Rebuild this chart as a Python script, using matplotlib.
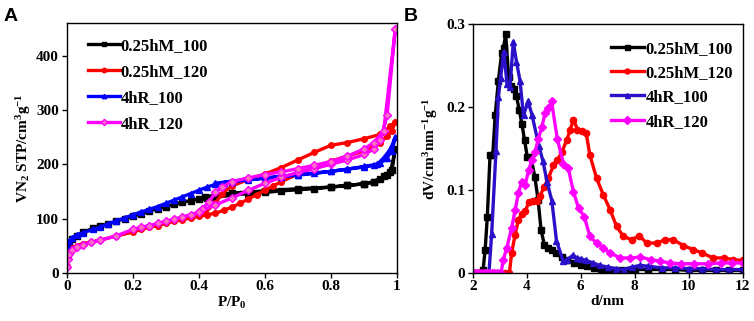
import numpy as np
import matplotlib
matplotlib.use("Agg")
import matplotlib.pyplot as plt

plt.rcParams['font.family'] = ['Liberation Serif', 'DejaVu Serif']
plt.rcParams['font.weight'] = 'bold'
plt.rcParams['mathtext.fontset'] = 'custom'
plt.rcParams['mathtext.rm'] = 'Liberation Serif:bold'
plt.rcParams['mathtext.it'] = 'Liberation Serif:bold'
plt.rcParams['mathtext.bf'] = 'Liberation Serif:bold'

labels = ["0.25hM_100", "0.25hM_120", "4hR_100", "4hR_120"]

# --- panel A: N2 isotherms (adsorption then desorption branch)
p_m100 = [0.0, 0.003, 0.007, 0.015, 0.03, 0.05, 0.08, 0.1, 0.125, 0.15, 0.175, 0.2, 0.225, 0.25,
          0.275, 0.3, 0.325, 0.35, 0.375, 0.4, 0.425, 0.45, 0.5, 0.55, 0.6, 0.65, 0.7, 0.75, 0.8,
          0.85, 0.9, 0.93, 0.95, 0.97, 0.985, 0.995,
          0.98, 0.96, 0.93, 0.9, 0.85, 0.8, 0.7, 0.6, 0.5, 0.45, 0.42]
v_m100 = [35, 48, 55, 62, 68, 75, 82, 86, 90, 95, 100, 104, 109, 114,
          118, 122, 126, 130, 133, 136, 138, 139, 143, 146, 148, 151, 153, 155, 158,
          161, 164, 167, 172, 180, 190, 228,
          185, 178, 168, 164, 161, 158, 155, 151, 147, 143, 140]

p_m120 = [0.0, 0.003, 0.007, 0.015, 0.03, 0.05, 0.075, 0.1, 0.15, 0.2, 0.225, 0.25, 0.275, 0.3,
          0.325, 0.35, 0.375, 0.4, 0.425, 0.45, 0.475, 0.5, 0.525, 0.55, 0.575, 0.6, 0.625, 0.65,
          0.7, 0.75, 0.8, 0.85, 0.9, 0.93, 0.95, 0.97, 0.985, 0.995,
          0.98, 0.95, 0.9, 0.85, 0.8, 0.75, 0.7, 0.65, 0.6, 0.55, 0.5, 0.47, 0.45, 0.42]
v_m120 = [12, 28, 38, 45, 50, 54, 57, 60, 68, 75, 80, 84, 87, 91,
          95, 98, 101, 104, 107, 110, 115, 121, 128, 136, 144, 152, 160, 168,
          182, 194, 206, 215, 225, 233, 240, 252, 262, 278,
          270, 255, 247, 240, 235, 222, 208, 194, 182, 172, 160, 146, 128, 112]

p_r100 = [0.0, 0.003, 0.007, 0.015, 0.03, 0.05, 0.08, 0.1, 0.125, 0.15, 0.175, 0.2, 0.225, 0.25,
          0.275, 0.3, 0.325, 0.35, 0.375, 0.4, 0.425, 0.45, 0.475, 0.5, 0.55, 0.6, 0.65, 0.7,
          0.75, 0.8, 0.85, 0.9, 0.93, 0.95, 0.97, 0.985, 0.995,
          0.98, 0.96, 0.94, 0.9, 0.85, 0.8, 0.7, 0.6, 0.5, 0.45]
v_r100 = [30, 50, 58, 64, 70, 74, 80, 84, 90, 96, 101, 107, 112, 117,
          122, 128, 134, 140, 146, 152, 158, 163, 166, 168, 171, 174, 177, 180,
          183, 187, 191, 195, 198, 202, 212, 225, 250,
          228, 212, 200, 196, 191, 187, 181, 175, 169, 165]

p_r120 = [0.0, 0.003, 0.007, 0.015, 0.03, 0.05, 0.075, 0.1, 0.15, 0.2, 0.225, 0.25, 0.275, 0.3,
          0.325, 0.35, 0.375, 0.4, 0.45, 0.5, 0.55, 0.6, 0.65, 0.7, 0.75, 0.8, 0.85, 0.9,
          0.93, 0.95, 0.97, 0.995,
          0.96, 0.93, 0.9, 0.85, 0.8, 0.75, 0.7, 0.65, 0.6, 0.55, 0.5, 0.47, 0.45, 0.43, 0.41, 0.4]
v_r120 = [10, 25, 35, 42, 48, 52, 56, 60, 68, 80, 84, 87, 91, 95,
          99, 103, 107, 112, 125, 138, 152, 165, 176, 185, 192, 200, 208, 218,
          228, 245, 290, 450,
          262, 240, 228, 215, 205, 198, 192, 186, 181, 175, 168, 158, 148, 130, 118, 113]

# --- panel B: pore size distributions
d_m100 = [2.0, 2.1, 2.2, 2.3, 2.38, 2.46, 2.54, 2.64, 2.74, 2.83, 2.95, 3.07, 3.14, 3.22, 3.33,
          3.42, 3.52, 3.62, 3.72, 3.82, 3.92, 4.02, 4.15, 4.3, 4.42, 4.53, 4.65, 4.8, 4.95, 5.1,
          5.3, 5.5, 5.75, 6.0, 6.25, 6.5, 6.75, 7.0, 7.25, 7.5, 7.75, 8.0, 8.5, 9.0, 9.5, 10.0,
          10.5, 11.0, 11.5, 12.0]
y_m100 = [0, 0, 0, 0, 0.003, 0.028, 0.068, 0.142, 0.142, 0.19, 0.232, 0.265, 0.272, 0.288, 0.237,
          0.226, 0.222, 0.213, 0.197, 0.18, 0.16, 0.14, 0.14, 0.116, 0.088, 0.052, 0.034, 0.03, 0.027, 0.024,
          0.019, 0.016, 0.012, 0.01, 0.008, 0.006, 0.005, 0.004, 0.003, 0.003, 0.004, 0.004, 0.004, 0.004, 0.004, 0.003,
          0.003, 0.003, 0.003, 0.003]

d_m120 = [2.0, 2.2, 2.4, 2.6, 2.8, 3.0, 3.2, 3.36, 3.44, 3.57, 3.69, 3.81, 3.94, 4.1, 4.25, 4.37,
          4.5, 4.64, 4.8, 4.99, 5.13, 5.3, 5.48, 5.6, 5.73, 5.88, 6.04, 6.2, 6.34, 6.59, 6.84, 7.09,
          7.33, 7.58, 7.89, 8.17, 8.44, 8.81, 9.12, 9.43, 9.8, 10.17, 10.5, 10.9, 11.3, 11.65, 12.0]
y_m120 = [0, 0, 0, 0, 0, 0, 0, 0.0, 0.024, 0.046, 0.064, 0.071, 0.075, 0.086, 0.087, 0.087,
          0.093, 0.104, 0.114, 0.13, 0.136, 0.146, 0.16, 0.172, 0.185, 0.173, 0.171, 0.169, 0.142, 0.114, 0.094, 0.076,
          0.056, 0.044, 0.04, 0.045, 0.036, 0.036, 0.04, 0.04, 0.033, 0.028, 0.024, 0.018, 0.018, 0.016, 0.015]

d_r100 = [2.0, 2.1, 2.2, 2.3, 2.4, 2.5, 2.6, 2.7, 2.86, 2.95, 3.03, 3.15, 3.27, 3.38, 3.5, 3.62,
          3.75, 3.88, 4.05, 4.2, 4.45, 4.6, 4.75, 4.93, 5.1, 5.35, 5.5, 5.7, 5.85, 6.0, 6.2, 6.45,
          6.7, 7.0, 7.3, 7.6, 7.9, 8.2, 8.5, 9.0, 9.5, 10.0, 10.5, 11.0, 11.5, 12.0]
y_r100 = [0, 0, 0, 0, 0, 0, 0, 0.047, 0.147, 0.212, 0.235, 0.267, 0.228, 0.224, 0.279, 0.255,
          0.232, 0.19, 0.207, 0.19, 0.153, 0.135, 0.11, 0.087, 0.039, 0.014, 0.016, 0.021, 0.018, 0.017, 0.015, 0.012,
          0.009, 0.007, 0.005, 0.004, 0.007, 0.009, 0.008, 0.006, 0.006, 0.005, 0.005, 0.004, 0.004, 0.004]

d_r120 = [2.0, 2.1, 2.2, 2.3, 2.4, 2.5, 2.6, 2.7, 2.8, 2.9, 3.0, 3.05, 3.13, 3.26, 3.44, 3.57,
          3.69, 3.81, 3.94, 4.07, 4.19, 4.31, 4.43, 4.56, 4.68, 4.8, 4.92, 5.13, 5.36, 5.54, 5.73,
          5.92, 6.13, 6.34, 6.59, 6.84, 7.09, 7.46, 7.83, 8.2, 8.6, 8.95, 9.3, 9.7, 10.2, 10.7,
          11.2, 11.6, 12.0]
y_r120 = [0, 0, 0, 0, 0, 0, 0, 0, 0, 0, 0, 0.0, 0.016, 0.03, 0.054, 0.076,
          0.096, 0.11, 0.106, 0.124, 0.136, 0.146, 0.162, 0.176, 0.193, 0.199, 0.207, 0.162, 0.132, 0.126, 0.098,
          0.078, 0.068, 0.044, 0.036, 0.03, 0.024, 0.018, 0.018, 0.019, 0.016, 0.014, 0.012, 0.011, 0.011, 0.011,
          0.012, 0.012, 0.012]

fig = plt.figure(figsize=(7.54, 3.21), dpi=100)
axA = fig.add_axes([0.0885, 0.150, 0.438, 0.778])
axB = fig.add_axes([0.627, 0.150, 0.358, 0.774])

styleA = [
    dict(color="black", marker="s", mfc="black", mec="black"),
    dict(color="#ff0000", marker="o", mfc="#ff0000", mec="#ff0000"),
    dict(color="#0000ff", marker="^", mfc="#0000ff", mec="#0000ff"),
    dict(color="#ff00ff", marker="D", mfc="#ff70c0", mec="#ff00ff"),
]
seriesA = [(p_m100, v_m100), (p_m120, v_m120), (p_r100, v_r100), (p_r120, v_r120)]
for (px, vy), st, lab in zip(seriesA, styleA, labels):
    axA.plot(px, vy, lw=2.4, ms=4, label=lab, **st)

axA.set_xlim(0, 1)
axA.set_ylim(0, 460)
axA.set_xticks([0, 0.2, 0.4, 0.6, 0.8, 1.0])
axA.set_xticklabels(["0", "0.2", "0.4", "0.6", "0.8", "1"])
axA.set_yticks([0, 100, 200, 300, 400])
axA.set_xlabel("P/P$_0$", fontsize=11, fontweight="bold", labelpad=1)
axA.set_ylabel("VN$_2$ STP/cm$^3$g$^{-1}$", fontsize=11, fontweight="bold", labelpad=2)
axA.legend(loc="upper left", bbox_to_anchor=(0.02, 1.0), frameon=False, fontsize=12,
           handlelength=1.9, handletextpad=0.05, labelspacing=0.6, markerscale=0.8)

styleB = [
    dict(color="black", marker="s"),
    dict(color="#ff0000", marker="o"),
    dict(color="#2a10c8", marker="^"),
    dict(color="#ff00ff", marker="D"),
]
seriesB = [(d_m100, y_m100), (d_m120, y_m120), (d_r100, y_r100), (d_r120, y_r120)]
for (dx, dy), st, lab in zip(seriesB, styleB, labels):
    axB.plot(dx, dy, lw=2.4, ms=4.5, label=lab, **st)

axB.set_xlim(2, 12)
axB.set_ylim(0, 0.3)
axB.set_xticks([2, 4, 6, 8, 10, 12])
axB.set_yticks([0, 0.1, 0.2, 0.3])
axB.set_yticklabels(["0", "0.1", "0.2", "0.3"])
axB.set_xlabel("d/nm", fontsize=11, fontweight="bold", labelpad=1)
axB.set_ylabel("dV/cm$^3$nm$^{-1}$g$^{-1}$", fontsize=11, fontweight="bold", labelpad=4)
axB.legend(loc="upper right", bbox_to_anchor=(1.02, 0.995), frameon=False, fontsize=12,
           handlelength=2.0, handletextpad=0.1, labelspacing=0.5, markerscale=0.8)

for ax in (axA, axB):
    ax.tick_params(direction="out", length=3.5, width=1, labelsize=11, pad=2)
    for lbl in ax.get_xticklabels() + ax.get_yticklabels():
        lbl.set_fontweight("bold")
    for s in ax.spines.values():
        s.set_linewidth(1)

fig.text(0.005, 0.975, "A", fontsize=14, fontweight="bold", family="Liberation Sans", va="top")
fig.text(0.535, 0.975, "B", fontsize=14, fontweight="bold", family="Liberation Sans", va="top")

fig.savefig("out.png", dpi=100)
